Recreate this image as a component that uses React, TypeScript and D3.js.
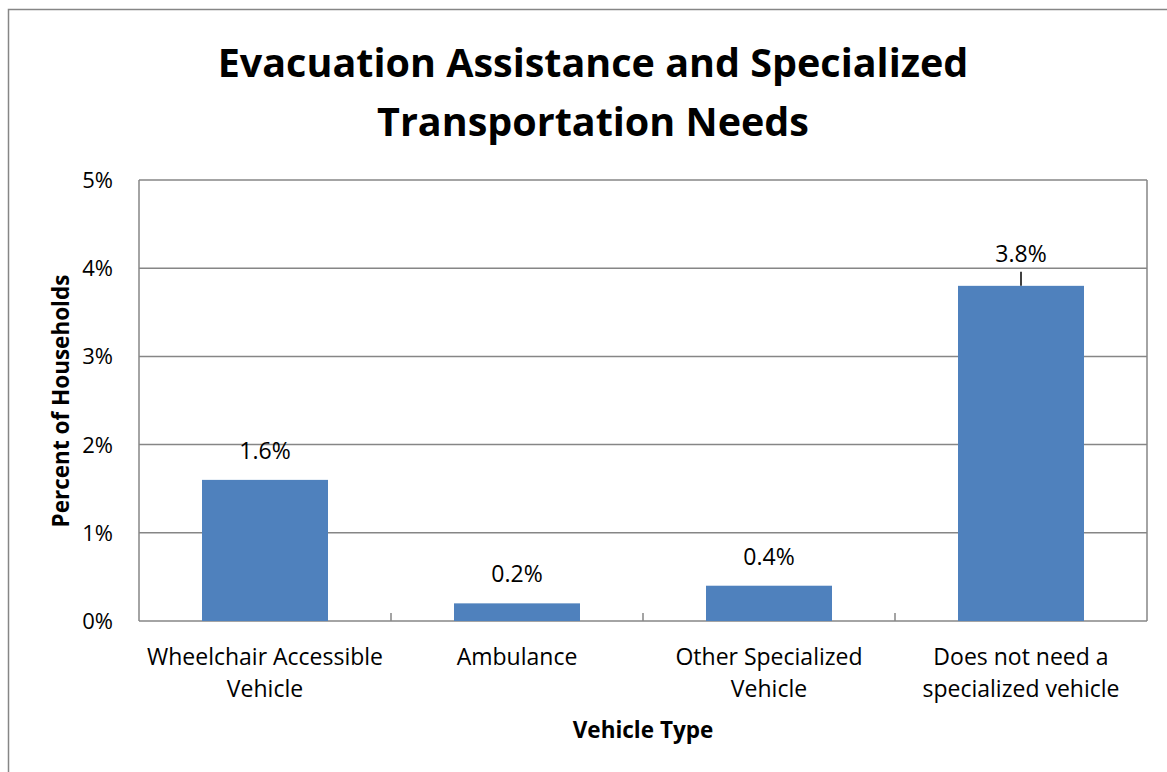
import React from "react";
import * as d3 from "d3";

const categories: string[][] = [
  ["Wheelchair Accessible", "Vehicle"],
  ["Ambulance"],
  ["Other Specialized", "Vehicle"],
  ["Does not need a", "specialized vehicle"],
];
const values: number[] = [1.6, 0.2, 0.4, 3.8];
const yTicks: number[] = [0, 1, 2, 3, 4, 5];
const titleLines: string[] = ["Evacuation Assistance and Specialized", "Transportation Needs"];

const W = 1167;
const H = 772;
const plot = { left: 139, right: 1147, top: 180, bottom: 621 };
const font = "'Open Sans', sans-serif";

export default function App() {
  const x = d3
    .scaleBand<number>()
    .domain(values.map((_, i) => i))
    .range([plot.left, plot.right])
    .paddingInner(0.5)
    .paddingOuter(0.25);
  const y = d3.scaleLinear().domain([0, 5]).range([plot.bottom, plot.top]);
  const step = x.step();
  const gridColor = "#868686";

  return (
    <svg width={W} height={H} style={{ display: "block", position: "absolute", left: 0, top: 0 }} viewBox={`0 0 ${W} ${H}`}>
      <rect x={8.5} y={9.5} width={1180} height={800} fill="#fff" stroke="#868686" strokeWidth={1.5} />
      {titleLines.map((t, i) => (
        <text key={i} x={593} y={77 + i * 59} textAnchor="middle" fontFamily={font} fontWeight="bold" fontSize={39.5} fill="#000">
          {t}
        </text>
      ))}
      {yTicks.map((t) => (
        <g key={t}>
          <line x1={plot.left} x2={plot.right} y1={y(t)} y2={y(t)} stroke={gridColor} strokeWidth={1.5} />
          <text x={113} y={y(t) + 8} textAnchor="end" fontFamily={font} fontSize={22} fill="#000">
            {t}%
          </text>
        </g>
      ))}
      <line x1={plot.left} x2={plot.left} y1={plot.top} y2={plot.bottom} stroke={gridColor} strokeWidth={1.5} />
      <line x1={plot.right} x2={plot.right} y1={plot.top} y2={plot.bottom} stroke={gridColor} strokeWidth={1.5} />
      {values.slice(1).map((_, i) => {
        const tx = plot.left + step * (i + 1);
        return <line key={i} x1={tx} x2={tx} y1={plot.bottom} y2={plot.bottom - 8} stroke={gridColor} strokeWidth={1.5} />;
      })}
      {values.map((v, i) => (
        <rect key={i} x={x(i)} y={y(v)} width={x.bandwidth()} height={y(0) - y(v)} fill="#4F81BD" />
      ))}
      {values.map((v, i) => {
        const cx = (x(i) as number) + x.bandwidth() / 2;
        const hasLeader = v > 3.5;
        const ly = hasLeader ? y(v) - 24 : y(v) - 21;
        return (
          <g key={i}>
            {hasLeader && <line x1={cx} x2={cx} y1={y(v)} y2={y(v) - 14} stroke="#000" strokeWidth={1.5} />}
            <text x={cx} y={ly} textAnchor="middle" fontFamily={font} fontSize={23} fill="#000">
              {v.toFixed(1)}%
            </text>
          </g>
        );
      })}
      {categories.map((lines, i) => {
        const cx = (x(i) as number) + x.bandwidth() / 2;
        return (
          <text key={i} x={cx} textAnchor="middle" fontFamily={font} fontSize={23} fill="#000">
            {lines.map((l, j) => (
              <tspan key={j} x={cx} y={665 + j * 32}>
                {l}
              </tspan>
            ))}
          </text>
        );
      })}
      <text x={643} y={738} textAnchor="middle" fontFamily={font} fontWeight="bold" fontSize={22.5} fill="#000">
        Vehicle Type
      </text>
      <text transform={`translate(69,401) rotate(-90)`} textAnchor="middle" fontFamily={font} fontWeight="bold" fontSize={22.5} fill="#000">
        Percent of Households
      </text>
    </svg>
  );
}
